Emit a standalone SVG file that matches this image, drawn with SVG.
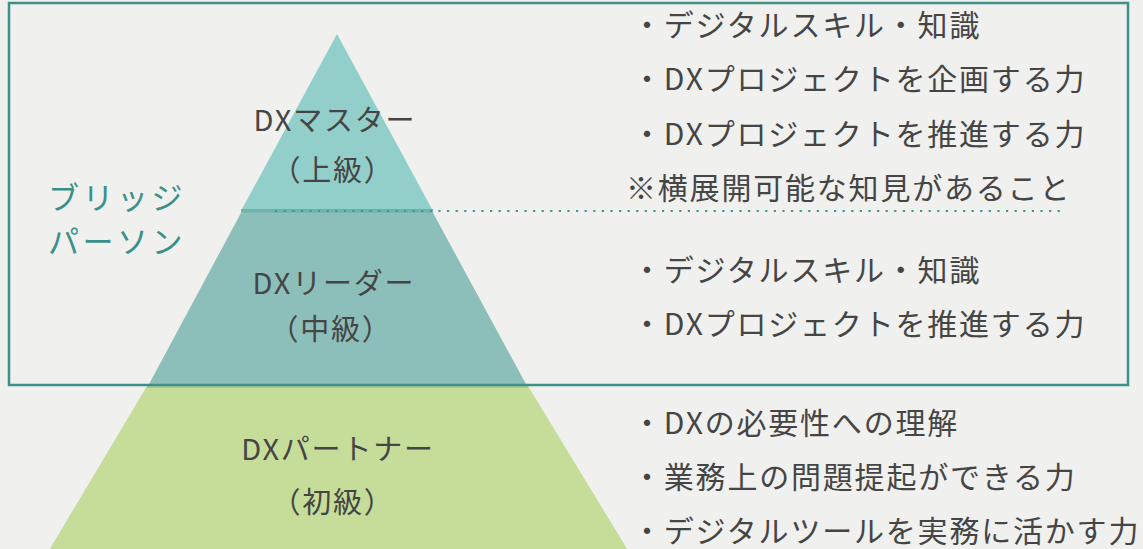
<svg xmlns="http://www.w3.org/2000/svg" width="1143" height="549" viewBox="0 0 1143 549">
<style>
.t{font-family:"Noto Sans CJK JP","Noto Sans",sans-serif;fill:#454545;}
.lab{font-size:29px;letter-spacing:1.8px;text-anchor:middle;}
.bul{font-size:30px;letter-spacing:1.8px;}
.bridge{font-family:"Noto Sans CJK JP","Noto Sans",sans-serif;fill:#3a9088;font-size:31px;letter-spacing:3.5px;}
</style>
<rect x="0" y="0" width="1143" height="549" fill="#f0f0ee"/>
<g id="level-partner">
<polygon points="147,386 528,386 629,552 48,552" fill="#c6dd9a"/>
<rect x="147" y="385" width="381" height="3" fill="#a9ca8c"/>
<text class="t lab" x="338" y="460">DXパートナー</text>
<text class="t lab" x="333" y="513">（初級）</text>
</g>
<g id="level-leader">
<polygon points="242,211 432,211 527,386 148,386" fill="#8cbfb9"/>
<text class="t lab" x="334" y="294">DXリーダー</text>
<text class="t lab" x="331" y="340">（中級）</text>
</g>
<g id="level-master">
<polygon points="337,34 433,211 241,211" fill="#93cfca"/>
<rect x="241" y="209" width="192" height="3.5" fill="#6fb4ac"/>
<text class="t lab" x="335" y="131">DXマスター</text>
<text class="t lab" x="333" y="181">（上級）</text>
</g>
<g id="connectors">
<line x1="275" y1="211" x2="1064" y2="211" stroke="#3a9a92" stroke-width="2.2" stroke-dasharray="2.2 6.4"/>
</g>
<g id="bridge-person">
<rect x="9" y="3" width="1119" height="382" fill="none" stroke="#3d9189" stroke-width="2.5"/>
<text class="bridge" x="48" y="209">ブリッジ</text>
<text class="bridge" x="48" y="253">パーソン</text>
</g>
<g id="master-skills">
<text class="t bul" x="632" y="36">・デジタルスキル・知識</text>
<text class="t bul" x="632" y="90">・DXプロジェクトを企画する力</text>
<text class="t bul" x="632" y="145">・DXプロジェクトを推進する力</text>
<text class="t bul" x="626" y="199">※横展開可能な知見があること</text>
</g>
<g id="leader-skills">
<text class="t bul" x="632" y="281">・デジタルスキル・知識</text>
<text class="t bul" x="632" y="335">・DXプロジェクトを推進する力</text>
</g>
<g id="partner-skills">
<text class="t bul" x="632" y="434">・DXの必要性への理解</text>
<text class="t bul" x="632" y="488">・業務上の問題提起ができる力</text>
<text class="t bul" x="632" y="542">・デジタルツールを実務に活かす力</text>
</g>
</svg>
